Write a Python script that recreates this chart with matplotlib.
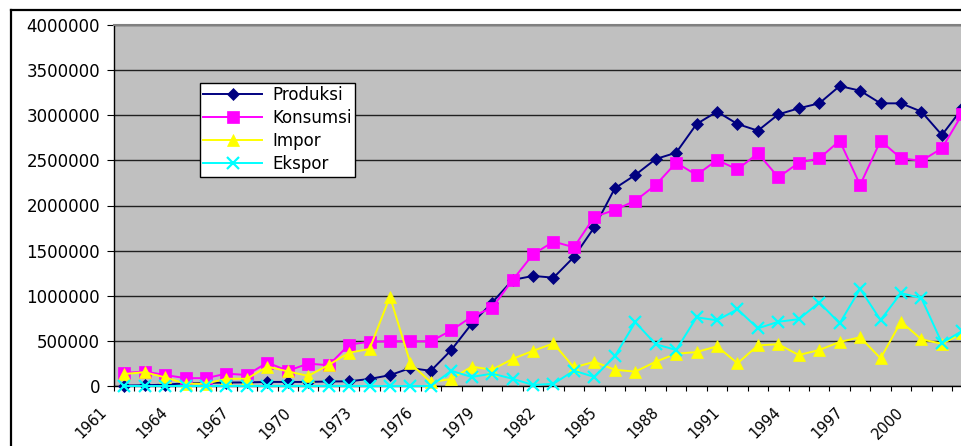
import matplotlib
matplotlib.use("Agg")
import matplotlib.pyplot as plt
from matplotlib.lines import Line2D
from matplotlib.transforms import ScaledTranslation

# data: tahun 1961-2002 (ton)
tahun = list(range(1961, 2003))

produksi = [5000, 8000, 15000, 30000, 35000, 38000, 40000, 45000, 45000, 45000,
            50000, 52000, 78000, 120000, 199000, 168000, 399000, 690000, 925000, 1175000,
            1220000, 1200000, 1430000, 1760000, 2190000, 2338000, 2515000, 2585000, 2903000, 3040000,
            2903000, 2829000, 3010000, 3077000, 3132000, 3324000, 3272000, 3132000, 3132000, 3040000,
            2781000, 3077000]
konsumsi = [145000, 160000, 122000, 87000, 87000, 137000, 122000, 260000, 168000, 248000,
            230000, 458000, 491000, 495000, 495000, 495000, 616000, 768000, 868000, 1174000,
            1459000, 1600000, 1537000, 1876000, 1950000, 2053000, 2227000, 2474000, 2338000, 2504000,
            2400000, 2578000, 2312000, 2474000, 2522000, 2718000, 2227000, 2718000, 2522000, 2496000,
            2633000, 3014000]
impor = [133000, 153000, 95000, 26000, 26000, 80000, 80000, 215000, 162000, 112000,
         233000, 369000, 410000, 990000, 251000, 42000, 78000, 214000, 181000, 300000,
         390000, 472000, 205000, 269000, 180000, 159000, 269000, 358000, 376000, 440000,
         251000, 450000, 463000, 343000, 399000, 488000, 540000, 307000, 712000, 517000,
         468000, 584000]
ekspor = [0, 0, 0, 0, 0, 0, 0, 0, 0, 0,
          0, 0, 0, 0, 0, 0, 168000, 100000, 137000, 80000,
          11000, 25000, 170000, 100000, 330000, 707000, 463000, 399000, 761000, 728000,
          850000, 639000, 712000, 740000, 925000, 695000, 1076000, 731000, 1030000, 972000,
          477000, 611000]

seri = [
    ("Produksi", produksi, "#000080", "D", 6.0),
    ("Konsumsi", konsumsi, "#FF00FF", "s", 8.0),
    ("Impor", impor, "#FFFF00", "^", 9.0),
    ("Ekspor", ekspor, "#00FFFF", "x", 8.5),
]

plt.rcParams["font.family"] = ["DejaVu Sans"]
plt.rcParams["font.size"] = 12

W, H = 962, 446
fig = plt.figure(figsize=(W / 100, H / 100), dpi=100)


def kotak(x0, y0, w, h):
    return [x0 / W, 1 - (y0 + h) / H, w / W, h / H]


# area plot sengaja lebih lebar dari gambar (bagian kanan terpotong)
ax = fig.add_axes(kotak(114, 25, 879, 361))
ax.set_facecolor("#C0C0C0")

x = list(range(len(tahun)))
for nama, nilai, warna, mk, ms in seri:
    ax.plot(x, nilai, color=warna, lw=1.4, marker=mk, ms=ms,
            mew=1.6 if mk == "x" else 0.5, mec=warna, mfc=warna,
            label=nama, clip_on=False, zorder=3)

ax.set_xlim(-0.5, len(tahun) + 0.5)
ax.set_ylim(0, 4000000)
ax.set_yticks(range(0, 4000001, 500000))
ax.set_yticklabels([str(v) for v in range(0, 4000001, 500000)])
ax.yaxis.grid(True, color="#202020", lw=1.0)
ax.set_axisbelow(True)

ax.set_xticks(x[::3])
ax.set_xticklabels([str(t) for t in tahun[::3]], rotation=45, fontsize=10.5,
                   ha="right", va="center", rotation_mode="anchor")
ax.set_xticks([i - 0.5 for i in range(len(tahun) + 1)], minor=True)
ax.tick_params(axis="x", which="major", length=0, pad=0)
ax.tick_params(axis="x", which="minor", length=3.6, width=0.8, direction="out")
ax.tick_params(axis="y", length=5, width=0.8, pad=5)

geser = ScaledTranslation(-0.20, -0.24, fig.dpi_scale_trans)
for lbl in ax.get_xticklabels():
    lbl.set_transform(lbl.get_transform() + geser)

for s in ("left", "bottom"):
    ax.spines[s].set_color("black")
    ax.spines[s].set_linewidth(1.0)
ax.spines["top"].set_color("#808080")
ax.spines["top"].set_linewidth(1.5)
ax.spines["right"].set_visible(False)

leg = ax.legend(loc="upper left", bbox_to_anchor=(200 / W, 1 - 83 / H),
                bbox_transform=fig.transFigure, borderaxespad=0,
                fancybox=False, framealpha=1, edgecolor="black",
                handlelength=3.5, handletextpad=0.65, borderpad=0.2,
                labelspacing=0.3, fontsize=12)
leg.get_frame().set_linewidth(1.0)

# bingkai luar area grafik
fig.add_artist(Line2D([11 / W, 11 / W], [0, 1 - 10 / H], color="black", lw=1.6,
                      transform=fig.transFigure))
fig.add_artist(Line2D([11 / W, 1], [1 - 10 / H, 1 - 10 / H], color="black", lw=1.6,
                      transform=fig.transFigure))

fig.savefig("out.png", dpi=100)
